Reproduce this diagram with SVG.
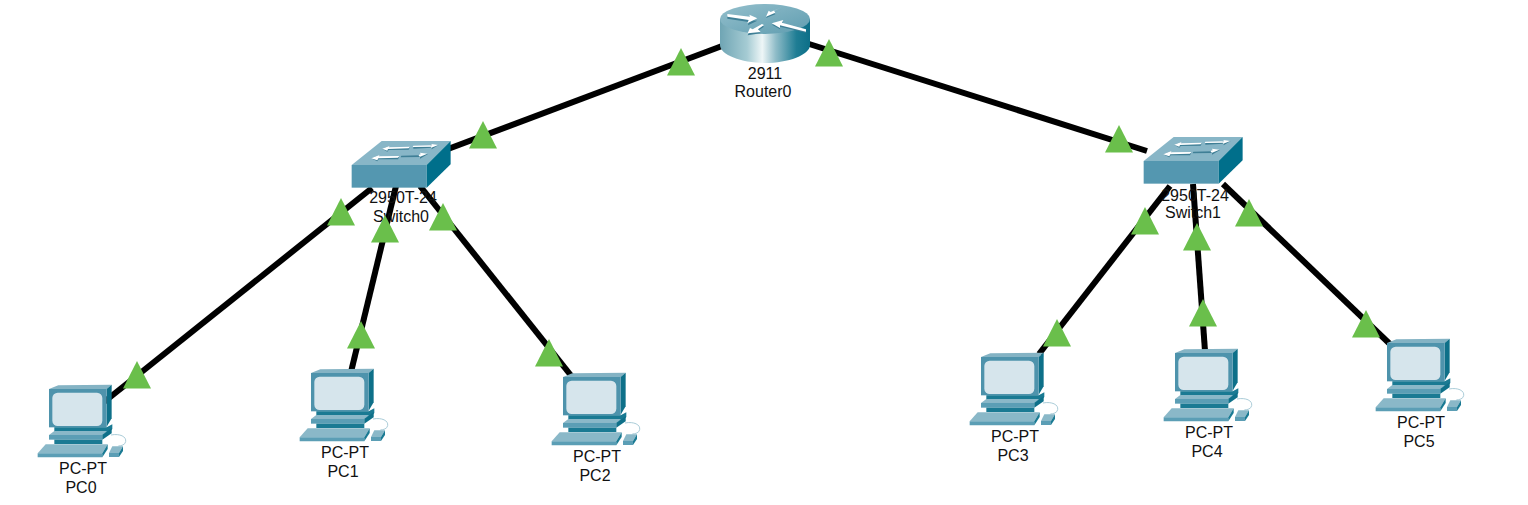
<svg xmlns="http://www.w3.org/2000/svg" width="1528" height="505" viewBox="0 0 1528 505">
<style>
text{font-family:"Liberation Sans",Arial,sans-serif;font-size:16px;fill:#111;text-anchor:middle}
.link{stroke:#000;stroke-width:6;fill:none}
.tri{fill:#6abf4b}
.w{fill:#fff}
.s{fill:#3f7f96}
</style>
<defs>
<linearGradient id="cyl" x1="0" x2="1" y1="0" y2="0">
<stop offset="0" stop-color="#6fa5b4"/><stop offset=".3" stop-color="#a5cbd3"/><stop offset=".47" stop-color="#eef6f7"/><stop offset=".62" stop-color="#8fbcc8"/><stop offset=".85" stop-color="#1f7d94"/><stop offset="1" stop-color="#0c6f88"/>
</linearGradient>
<linearGradient id="topg" x1="0" x2="1" y1="0" y2="1">
<stop offset="0" stop-color="#94bfcc"/><stop offset="1" stop-color="#5f9db0"/>
</linearGradient>
<polygon id="t" class="tri" points="0,-14 14,13.500 -14,13.500"/>
<g id="pc" transform="scale(.3333)">
<polygon points="72,42 100,31 260,29 245,42" fill="#84b3c4"/>
<polygon points="245,42 260,29 260,130 245,155" fill="#0e7089"/>
<rect x="72" y="42" width="173" height="115" fill="#4e93ac"/>
<rect x="82" y="53" width="150" height="100" rx="16" fill="#d6e5ec"/>
<polygon points="88,157 245,157 262,148 262,162 245,180 88,180" fill="#1a7a93"/>
<polygon points="88,168 245,168 245,180 88,180" fill="#5b9eb5"/>
<polygon points="72,180 88,168 245,168 232,180" fill="#8ab8c8"/>
<rect x="72" y="180" width="160" height="14" fill="#5b9eb5"/>
<polygon points="232,180 260,160 260,175 232,194" fill="#0e7089"/>
<rect x="88" y="194" width="144" height="13" fill="#1a7a93"/>
<polygon points="62,208 248,208 232,235 38,235" fill="#8ab8c8"/>
<polygon points="38,235 232,235 232,247 38,247" fill="#5b9eb5"/>
<polygon points="232,235 248,208 248,222 232,247" fill="#1a7a93"/>
<path d="M258,180 C285,175 305,185 302,200 C300,210 290,212 280,213" fill="none" stroke="#a9cbd7" stroke-width="3"/>
<polygon points="262,214 294,214 282,234 252,234" fill="#8ab8c8"/>
<polygon points="252,234 282,234 282,246 252,246" fill="#5b9eb5"/>
<polygon points="282,234 294,214 294,228 282,246" fill="#1a7a93"/>
</g>
<g id="sw" transform="scale(.3333)">
<polygon points="65,120 155,48 362,48 290,120" fill="#88b6c7"/>
<rect x="65" y="120" width="225" height="68" fill="#5497b0"/>
<polygon points="290,120 362,48 362,118 290,188" fill="#006f8b"/>
<polygon class="s" points="156,71 180,62 178,69 240,66 236,74 176,75 172,80"/>
<polygon class="s" points="123,100 150,89 148,97 208,95 204,103 146,103 142,109"/>
<polygon class="s" points="250,71 305,68 305,73 326,60 300,60 302,64 250,64"/>
<polygon class="s" points="212,97 270,96 270,101 294,87 266,87 270,91 214,92"/>
<polygon class="w" points="156,71 180,62 177,67 240,65 236,70 174,72 172,77"/>
<polygon class="w" points="123,100 150,89 147,94 208,93 204,98 145,100 142,106"/>
<polygon class="w" points="325,60 302,69 304,65 248,66 250,62 306,61 304,57"/>
<polygon class="w" points="292,86 267,97 270,93 266,93 268,88 272,88 270,83"/>
</g>
</defs>
<g id="connectors">
<line class="link" x1="722" y1="46" x2="448" y2="149"/>
<line class="link" x1="806" y1="43" x2="1147" y2="151"/>
<line class="link" x1="372" y1="188" x2="104" y2="402"/>
<line class="link" x1="396" y1="186" x2="351" y2="372"/>
<line class="link" x1="420" y1="186" x2="573" y2="378"/>
<line class="link" x1="1170" y1="186" x2="1039" y2="354"/>
<line class="link" x1="1193" y1="184" x2="1205" y2="351"/>
<line class="link" x1="1223" y1="184" x2="1392" y2="346"/>
</g>
<g id="router0">
<path d="M720,19 V45 C720,55 742,63 765,63 C788,63 810,55 810,45 V19 Z" fill="url(#cyl)"/>
<ellipse cx="765" cy="19" rx="45" ry="15" fill="url(#topg)"/>
<g transform="translate(700,0) scale(.3333)">
<polygon class="s" points="82,48 150,56 146,60 172,62 144,76 146,66 82,56"/>
<polygon class="s" points="246,27 222,38 226,43 198,54 206,40 212,42 240,30"/>
<polygon class="s" points="318,98 240,80 240,88 216,74 250,64 246,72 318,92"/>
<polygon class="s" points="192,80 174,92 182,100 143,106 150,90 158,92 186,76"/>
<polygon class="w" points="82,42 150,50 148,44 172,55 142,70 146,60 82,50"/>
<polygon class="w" points="245,22 222,32 226,38 198,50 206,32 212,36 240,24"/>
<polygon class="w" points="318,95 240,76 240,84 215,70 250,60 246,68 318,88"/>
<polygon class="w" points="192,75 174,88 182,96 143,100 150,84 158,88 186,72"/>
</g>
<text x="765" y="79">2911</text>
<text x="763" y="97">Router0</text>
</g>
<g id="switch0" transform="translate(330,125)"><use href="#sw"/>
<text x="73" y="78">2950T-24</text><text x="71" y="97">Switch0</text></g>
<g id="switch1" transform="translate(1122,121)"><use href="#sw"/>
<text x="73" y="80">2950T-24</text><text x="71" y="97">Switch1</text></g>
<g id="pc0" transform="translate(25,375)"><use href="#pc"/><text x="58" y="98.500">PC-PT</text><text x="56" y="117.500">PC0</text></g>
<g id="pc1" transform="translate(287,359)"><use href="#pc"/><text x="58" y="98.500">PC-PT</text><text x="56" y="117.500">PC1</text></g>
<g id="pc2" transform="translate(539,363)"><use href="#pc"/><text x="58" y="98.500">PC-PT</text><text x="56" y="117.500">PC2</text></g>
<g id="pc3" transform="translate(957,343)"><use href="#pc"/><text x="58" y="98.500">PC-PT</text><text x="56" y="117.500">PC3</text></g>
<g id="pc4" transform="translate(1151,339)"><use href="#pc"/><text x="58" y="98.500">PC-PT</text><text x="56" y="117.500">PC4</text></g>
<g id="pc5" transform="translate(1363,329)"><use href="#pc"/><text x="58" y="98.500">PC-PT</text><text x="56" y="117.500">PC5</text></g>
<g id="link-lights">
<use href="#t" x="681" y="62"/><use href="#t" x="829" y="53"/><use href="#t" x="483" y="135"/><use href="#t" x="1119" y="139"/>
<use href="#t" x="341" y="212"/><use href="#t" x="385" y="229"/><use href="#t" x="443" y="217"/>
<use href="#t" x="137" y="375"/><use href="#t" x="361" y="335"/><use href="#t" x="549" y="353"/>
<use href="#t" x="1145" y="221"/><use href="#t" x="1197" y="237"/><use href="#t" x="1249" y="213"/>
<use href="#t" x="1057" y="333"/><use href="#t" x="1203" y="313"/><use href="#t" x="1366" y="324"/>
</g>
</svg>
